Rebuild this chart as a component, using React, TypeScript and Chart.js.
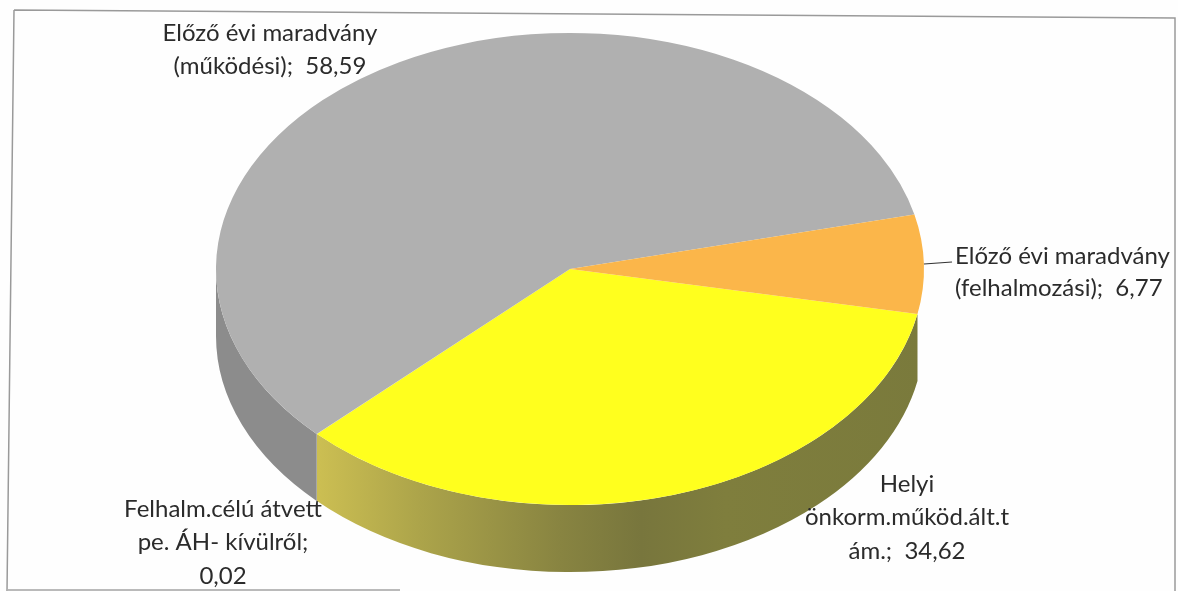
import { useEffect, useRef } from "react";
import { Chart, ArcElement, DoughnutController } from "chart.js";

Chart.register(ArcElement, DoughnutController);

const categories = [
  "Helyi önkorm.működ.ált.tám.",
  "Felhalm.célú átvett pe. ÁH- kívülről",
  "Előző évi maradvány (működési)",
  "Előző évi maradvány (felhalmozási)",
];
const values = [34.62, 0.02, 58.59, 6.77];
const topColors = ["#ffff1e", "#c8c8c8", "#b0b0b0", "#fbb64a"];

const labelLines = [
  { lines: ["Helyi", "önkorm.működ.ált.t", "ám.;  34,62"], x: 907, y: 484, align: "center" },
  { lines: ["Felhalm.célú átvett", "pe. ÁH- kívülről;", "0,02"], x: 223, y: 509, align: "center" },
  { lines: ["Előző évi maradvány", "(működési);  58,59"], x: 270, y: 33, align: "center" },
  { lines: ["Előző évi maradvány", "(felhalmozási);  6,77"], x: 955, y: 256, align: "left" },
];

const SQUASH = 0.667;
const DEPTH = 67;
const CX = 570;
const CY = 269;
const RX = 354;

function wallFill(ctx: CanvasRenderingContext2D, i: number) {
  const g = ctx.createLinearGradient(CX - RX, 0, CX + RX, 0);
  if (i === 0) {
    g.addColorStop(0, "#cfc254");
    g.addColorStop(0.147, "#cbbe52");
    g.addColorStop(0.288, "#aca44a");
    g.addColorStop(0.486, "#888441");
    g.addColorStop(0.6, "#78763d");
    g.addColorStop(0.72, "#7f7e3d");
    g.addColorStop(1, "#7a7a3c");
    return g;
  }
  if (i === 3) return "#4a4a38";
  return "#8c8c8c";
}

const pseudo3D = {
  id: "pseudo3D",
  beforeDatasetsDraw(chart: Chart) {
    const ctx = chart.ctx;
    const arcs = chart.getDatasetMeta(0).data as any[];
    arcs.forEach((arc, i) => {
      // keep the part of the slice that faces the viewer (0..PI on the canvas)
      const a0 = Math.max(arc.startAngle, 0);
      const a1 = Math.min(arc.endAngle, Math.PI);
      if (a1 <= a0) return;
      const r = arc.outerRadius;
      ctx.save();
      ctx.beginPath();
      ctx.ellipse(arc.x, arc.y, r, r * SQUASH, 0, a0, a1, false);
      ctx.ellipse(arc.x, arc.y + DEPTH, r, r * SQUASH, 0, a1, a0, true);
      ctx.closePath();
      ctx.fillStyle = wallFill(ctx, i);
      ctx.fill();
      ctx.restore();
    });
    ctx.save();
    ctx.translate(CX, CY);
    ctx.scale(1, SQUASH);
    ctx.translate(-CX, -CY);
  },
  afterDatasetsDraw(chart: Chart) {
    const ctx = chart.ctx;
    ctx.restore();
    ctx.save();
    // scanned page frame
    ctx.strokeStyle = "#9a9a9a";
    ctx.lineWidth = 1.5;
    ctx.beginPath();
    ctx.moveTo(14, 10);
    ctx.lineTo(1175, 18);
    ctx.lineTo(1175, 591);
    ctx.moveTo(14, 10);
    ctx.lineTo(7, 591);
    ctx.stroke();
    ctx.strokeStyle = "#777777";
    ctx.lineWidth = 1;
    ctx.beginPath();
    ctx.moveTo(8, 590);
    ctx.lineTo(400, 590);
    ctx.stroke();
    // leader line of the small slice
    ctx.strokeStyle = "#333333";
    ctx.lineWidth = 1.2;
    ctx.beginPath();
    ctx.moveTo(924, 264);
    ctx.lineTo(952, 262);
    ctx.stroke();
    ctx.fillStyle = "#2b2b2b";
    ctx.font = "24px Lato";
    ctx.textBaseline = "middle";
    labelLines.forEach((l) => {
      ctx.textAlign = l.align as CanvasTextAlign;
      const step = l.lines.length === 2 && l.align === "left" ? 32.5 : 33.5;
      l.lines.forEach((t, k) => ctx.fillText(t, l.x, l.y + k * step));
    });
    ctx.restore();
  },
};

export default function App() {
  const ref = useRef<HTMLCanvasElement>(null);
  useEffect(() => {
    document.body.style.margin = "0";
    const chart = new Chart(ref.current!, {
      type: "doughnut",
      data: {
        labels: categories,
        datasets: [
          {
            data: values,
            backgroundColor: topColors,
            borderWidth: 0,
          },
        ],
      },
      options: {
        animation: false,
        responsive: false,
        cutout: 0,
        radius: RX,
        rotation: 101,
        layout: { padding: { left: 0, right: 1178 - 2 * CX, top: 0, bottom: 591 - 2 * CY } },
        plugins: { legend: { display: false }, tooltip: { enabled: false } },
      },
      plugins: [pseudo3D],
    } as any);
    return () => chart.destroy();
  }, []);
  return <canvas ref={ref} width={1178} height={591} style={{ display: "block", background: "#fefefe" }} />;
}
